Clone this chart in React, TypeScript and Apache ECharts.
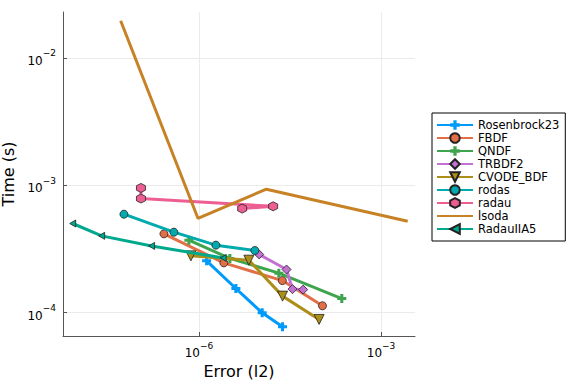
import React, { useEffect, useRef } from "react";
import * as echarts from "echarts";

// log10 values
const seriesNames = ["Rosenbrock23", "FBDF", "QNDF", "TRBDF2", "CVODE_BDF", "rodas", "radau", "lsoda", "RadauIIA5"];
const rosenbrockErr = [-5.873, -5.391, -4.958, -4.622];
const rosenbrockTime = [-3.593, -3.81, -4.001, -4.111];
const fbdfErr = [-6.576, -5.589, -4.626, -3.964];
const fbdfTime = [-3.381, -3.609, -3.748, -3.946];
const qndfErr = [-6.165, -5.49, -4.683, -3.646];
const qndfTime = [-3.431, -3.574, -3.69, -3.889];
const trbdf2Err = [-5.007, -4.556, -4.458, -4.283];
const trbdf2Time = [-3.543, -3.661, -3.815, -3.819];
const cvodeErr = [-6.132, -5.177, -4.622, -4.02];
const cvodeTime = [-3.554, -3.588, -3.87, -4.053];
const rodasErr = [-7.235, -6.412, -5.72, -5.078];
const rodasTime = [-3.227, -3.368, -3.47, -3.512];
const radauErr = [-6.955, -6.955, -4.777, -5.287];
const radauTime = [-3.021, -3.104, -3.165, -3.183];
const lsodaErr = [-7.289, -6.016, -4.889, -2.56];
const lsodaTime = [-1.709, -3.259, -3.031, -3.282];
const radauIIA5Err = [-8.079, -7.602, -6.779, -5.6];
const radauIIA5Time = [-3.3, -3.397, -3.476, -3.57];

const xTicks = [-6, -3];
const yTicks = [-4, -3, -2];

const colors = ["#009AFA", "#E36F47", "#3EA44E", "#C371D2", "#AC8E18", "#00AAAE", "#ED5E93", "#C68225", "#00A98D"];

const CROSS = "path://M3.3,0 H6.7 V3.3 H10 V6.7 H6.7 V10 H3.3 V6.7 H0 V3.3 H3.3 Z";
const HEX = "path://M5,0 L9.33,2.5 L9.33,7.5 L5,10 L0.67,7.5 L0.67,2.5 Z";
const DTRI = "path://M0,0 L10,0 L5,9 Z";
const LTRI = "path://M10,0 L10,10 L0,5 Z";

const zip = (a: number[], b: number[]) => a.map((v, i) => [v, b[i]]);

const supLabel = (v: number) => {
  const s = Math.round(v);
  return "{b|10}{s|" + (s < 0 ? "\u2212" + Math.abs(s) : String(s)) + "}";
};

export default function App() {
  const ref = useRef<HTMLDivElement>(null);
  useEffect(() => {
    if (!ref.current) return;
    const chart = echarts.init(ref.current, undefined, { renderer: "svg" });
    const datasets = [
      zip(rosenbrockErr, rosenbrockTime),
      zip(fbdfErr, fbdfTime),
      zip(qndfErr, qndfTime),
      zip(trbdf2Err, trbdf2Time),
      zip(cvodeErr, cvodeTime),
      zip(rodasErr, rodasTime),
      zip(radauErr, radauTime),
      zip(lsodaErr, lsodaTime),
      zip(radauIIA5Err, radauIIA5Time),
    ];
    const symbols: any[] = [CROSS, "circle", CROSS, "diamond", DTRI, "circle", HEX, "none", LTRI];
    const sizes: any[] = [9, 8, 9, 9, 10, 8, 9, 0, [6, 7]];
    const blackEdge = [false, true, false, true, true, true, true, false, true];
    const rich = {
      b: { fontSize: 12, color: "#000", fontFamily: "DejaVu Sans", lineHeight: 18, verticalAlign: "bottom" },
      s: { fontSize: 9, color: "#000", fontFamily: "DejaVu Sans", lineHeight: 18, verticalAlign: "top" },
    };
    chart.setOption({
      animation: false,
      backgroundColor: "#fff",
      textStyle: { fontFamily: "DejaVu Sans" },
      grid: { left: 63, right: 161, top: 12, bottom: 48, outerBoundsMode: "none", containLabel: false },
      legend: {
        orient: "vertical",
        left: 432,
        top: 113,
        padding: [6, 6, 6, 4],
        itemGap: 1,
        itemWidth: 36,
        itemHeight: 12,
        borderColor: "#000",
        borderWidth: 1,
        textStyle: { fontSize: 11.5, lineHeight: 12, color: "#000", fontFamily: "DejaVu Sans" },
        data: seriesNames.map((n) =>
          n === "lsoda" ? { name: n, itemStyle: { opacity: 0 } } : { name: n }
        ),
      },
      xAxis: {
        type: "value",
        min: -8.239,
        max: -2.44,
        name: "Error (l2)",
        nameLocation: "middle",
        nameGap: 26,
        nameTextStyle: { fontSize: 16, color: "#000", fontFamily: "DejaVu Sans" },
        axisLine: { show: true, lineStyle: { color: "#555", width: 1 } },
        axisTick: { show: true, inside: true, length: 4, customValues: xTicks, lineStyle: { color: "#555" } },
        axisLabel: { customValues: xTicks, formatter: supLabel, rich, margin: 5 },
        splitLine: { show: true, lineStyle: { color: "#ebebeb", width: 1 } },
      },
      yAxis: {
        type: "value",
        min: -4.183,
        max: -1.64,
        name: "Time (s)",
        nameLocation: "middle",
        nameGap: 45,
        nameTextStyle: { fontSize: 16, color: "#000", fontFamily: "DejaVu Sans" },
        axisLine: { show: true, lineStyle: { color: "#555", width: 1 } },
        axisTick: { show: true, inside: true, length: 4, customValues: yTicks, lineStyle: { color: "#555" } },
        axisLabel: { customValues: yTicks, formatter: supLabel, rich, margin: 7 },
        splitLine: { show: true, lineStyle: { color: "#ebebeb", width: 1 } },
      },
      series: seriesNames.map((name, i) => ({
        name,
        type: "line",
        data: datasets[i],
        symbol: symbols[i],
        symbolSize: sizes[i],
        showSymbol: symbols[i] !== "none",
        color: colors[i],
        lineStyle: { width: 3, color: colors[i] },
        itemStyle: {
          color: colors[i],
          borderColor: blackEdge[i] ? "#222" : colors[i],
          borderWidth: blackEdge[i] ? 0.8 : 0,
        },
        z: 2 + i,
      })),
    });
    return () => chart.dispose();
  }, []);
  return <div ref={ref} style={{ position: "fixed", left: 0, top: 0, width: 576, height: 384 }} />;
}
